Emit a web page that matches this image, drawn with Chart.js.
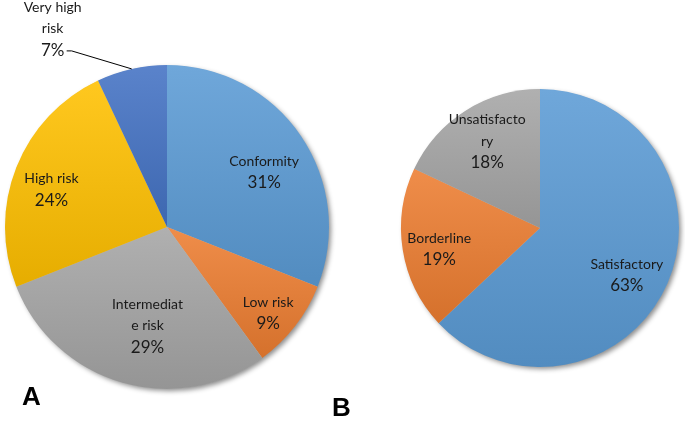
<!DOCTYPE html>
<html lang="en">
<head>
    <meta charset="UTF-8">
    <title>Risk and quality pies</title>
    <script src="https://cdn.jsdelivr.net/npm/chart.js@4.4.0/dist/chart.umd.min.js"></script>
    <style>
        body { margin: 0; background: #fff; font-family: 'Lato', 'Open Sans', sans-serif; }
        #wrap { position: relative; width: 685px; height: 421px; overflow: hidden; }
        .pane { position: absolute; top: 0; height: 421px; }
        #paneA { left: 0; width: 340px; }
        #paneB { left: 340px; width: 345px; }
        .panel-letter {
            position: absolute;
            font-family: 'Liberation Sans', Arial, sans-serif;
            font-weight: bold;
            font-size: 26px;
            line-height: 26px;
            color: #000;
        }
    </style>
</head>
<body>
<div id="wrap">
    <div class="pane" id="paneA"><canvas id="pieA"></canvas></div>
    <div class="pane" id="paneB"><canvas id="pieB"></canvas></div>
    <div class="panel-letter" style="left:22px; top:383px;">A</div>
    <div class="panel-letter" style="left:332px; top:394px;">B</div>
</div>

<script>
    // --- data ---
    const categoriesA = ['Conformity', 'Low risk', 'Intermediate risk', 'High risk', 'Very high risk'];
    const valuesA = [31, 9, 29, 24, 7];
    // label wrapping as Excel did it
    const labelLinesA = [['Conformity'], ['Low risk'], ['Intermediat', 'e risk'], ['High risk'], ['Very high', 'risk']];

    const categoriesB = ['Satisfactory', 'Borderline', 'Unsatisfactory'];
    const valuesB = [63, 19, 18];
    const labelLinesB = [['Satisfactory'], ['Borderline'], ['Unsatisfacto', 'ry']];

    // Office palette
    const colorsA = ['#5B9BD5', '#ED7D31', '#A5A5A5', '#FFC000', '#4472C4'];
    const colorsB = ['#5B9BD5', '#ED7D31', '#A5A5A5'];

    function shade(hex, amt) {
        const n = parseInt(hex.slice(1), 16);
        let r = (n >> 16) & 255, g = (n >> 8) & 255, b = n & 255;
        const f = v => Math.max(0, Math.min(255, Math.round(amt >= 0 ? v + (255 - v) * amt : v * (1 + amt))));
        return `rgb(${f(r)},${f(g)},${f(b)})`;
    }

    // vertical gradient over each slice's own bounding box
    function sliceGradient(values, colors) {
        return function(ctx) {
            const chart = ctx.chart;
            const area = chart.chartArea;
            if (!area) return colors[ctx.dataIndex];
            const total = values.reduce((a, b) => a + b, 0);
            const cx = (area.left + area.right) / 2, cy = (area.top + area.bottom) / 2;
            const r = Math.min(area.right - area.left, area.bottom - area.top) / 2;
            let before = 0;
            for (let i = 0; i < ctx.dataIndex; i++) before += values[i];
            const a0 = -Math.PI / 2 + before / total * 2 * Math.PI;
            const a1 = a0 + values[ctx.dataIndex] / total * 2 * Math.PI;
            const ys = [cy, cy + r * Math.sin(a0), cy + r * Math.sin(a1)];
            for (let k = -1; k <= 3; k++) {
                const a = -Math.PI / 2 + k * Math.PI;
                if (a > a0 && a < a1) ys.push(cy + r * Math.sin(a));
            }
            const y0 = Math.min(...ys), y1 = Math.max(...ys);
            const g = chart.ctx.createLinearGradient(0, y0, 0, y1 + 0.01);
            const base = colors[ctx.dataIndex];
            g.addColorStop(0, shade(base, 0.12));
            g.addColorStop(1, shade(base, -0.1));
            return g;
        };
    }

    const shadowPlugin = {
        id: 'pieShadow',
        beforeDatasetsDraw(chart) {
            const meta = chart.getDatasetMeta(0);
            const arc = meta.data[0];
            if (!arc) return;
            const c = chart.ctx;
            c.save();
            c.beginPath();
            c.arc(arc.x, arc.y, arc.outerRadius - 0.5, 0, Math.PI * 2);
            c.shadowColor = 'rgba(0,0,0,0.45)';
            c.shadowBlur = 5;
            c.shadowOffsetX = 2.5;
            c.shadowOffsetY = 2.5;
            c.fillStyle = '#bbb';
            c.fill();
            c.restore();
        }
    };

    // labels: placed along each slice's mid angle
    const labelPlugin = {
        id: 'sliceLabels',
        afterDatasetsDraw(chart, args, opts) {
            const meta = chart.getDatasetMeta(0);
            const c = chart.ctx;
            const vals = chart.data.datasets[0].data;
            const total = vals.reduce((a, b) => a + b, 0);
            meta.data.forEach((arc, i) => {
                const lines = opts.lines[i];
                const place = opts.place[i];
                const mid = (arc.startAngle + arc.endAngle) / 2 + place[1] * Math.PI / 180;
                const R = arc.outerRadius;
                const pct = Math.round(vals[i] / total * 100) + '%';
                let x, y;
                if (place[2]) {
                    // outside label with leader line
                    const ex = arc.x + R * Math.cos(mid), ey = arc.y + R * Math.sin(mid);
                    const kx = ex + place[2][0], ky = ey + place[2][1];
                    c.save();
                    c.strokeStyle = '#000';
                    c.lineWidth = 1;
                    c.beginPath();
                    c.moveTo(ex, ey);
                    c.lineTo(kx, ky);
                    c.lineTo(kx - 5, ky);
                    c.stroke();
                    c.restore();
                    x = kx - 19;
                    y = ky - 22;
                } else {
                    x = arc.x + R * place[0] * Math.cos(mid);
                    y = arc.y + R * place[0] * Math.sin(mid);
                }
                const n = lines.length + 1;
                const step = 21.5;
                let ty = y - (n - 1) * step / 2;
                if (place[2]) ty = y - (n - 2) * step;
                c.save();
                c.fillStyle = '#1a1a1a';
                c.textAlign = 'center';
                c.textBaseline = 'middle';
                c.font = '14px Lato, "Open Sans", sans-serif';
                lines.forEach(t => { c.fillText(t, x, ty); ty += step; });
                c.font = '17px Lato, "Open Sans", sans-serif';
                c.fillText(pct, x, ty);
                c.restore();
            });
        }
    };

    function makePie(id, labels, values, colors, lines, place, padding) {
        new Chart(document.getElementById(id), {
            type: 'pie',
            data: {
                labels: labels,
                datasets: [{
                    data: values,
                    backgroundColor: sliceGradient(values, colors),
                    borderWidth: 0
                }]
            },
            options: {
                responsive: true,
                maintainAspectRatio: false,
                animation: false,
                layout: { padding: padding },
                plugins: {
                    legend: { display: false },
                    tooltip: { enabled: false },
                    sliceLabels: { lines: lines, place: place }
                }
            },
            plugins: [shadowPlugin, labelPlugin]
        });
    }

    // [radius fraction, angle nudge (deg), outside offset]
    makePie('pieA', categoriesA, valuesA, colorsA, labelLinesA,
        [[0.69, 4.6], [0.82, 2.6], [0.62, -5], [0.75, -3.6], [1, 0, [-60, -18]]],
        { left: 5, right: 11, top: 65, bottom: 32 });

    makePie('pieB', categoriesB, valuesB, colorsB, labelLinesB,
        [[0.71, 5], [0.74, -2.7], [0.73, 1]],
        { left: 61, right: 6, top: 89, bottom: 54 });
</script>
</body>
</html>
